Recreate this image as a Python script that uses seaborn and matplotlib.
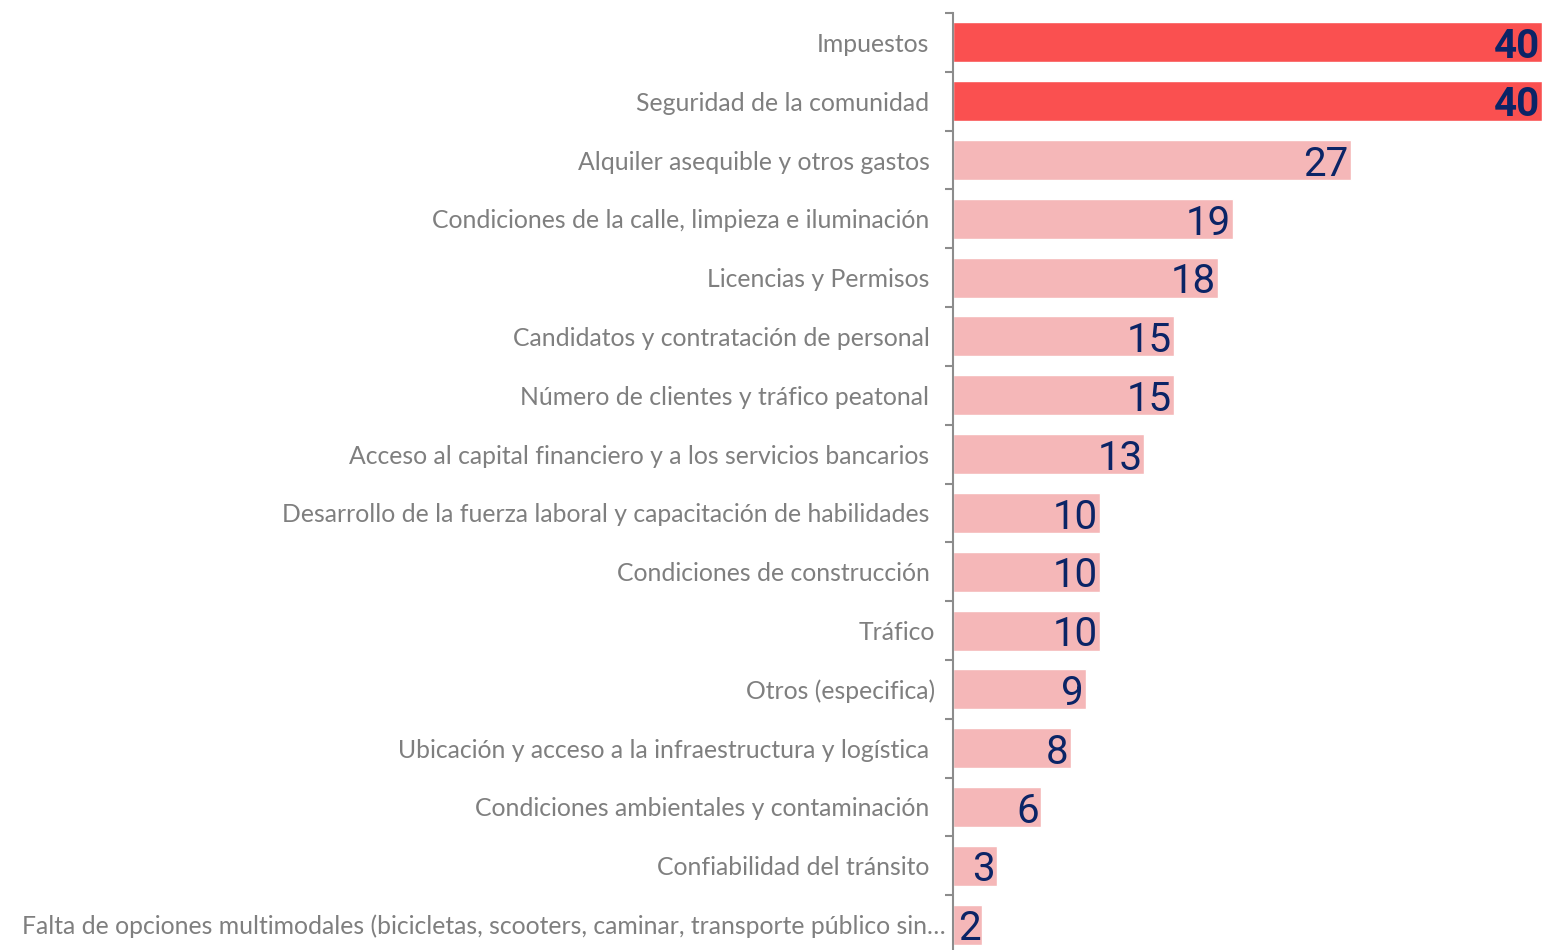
import matplotlib
matplotlib.use("Agg")
import matplotlib.pyplot as plt
import matplotlib.transforms as mtransforms
import seaborn as sns
import pandas as pd

categories = [
    "Impuestos",
    "Seguridad de la comunidad",
    "Alquiler asequible y otros gastos",
    "Condiciones de la calle, limpieza e iluminación",
    "Licencias y Permisos",
    "Candidatos y contratación de personal",
    "Número de clientes y tráfico peatonal",
    "Acceso al capital financiero y a los servicios bancarios",
    "Desarrollo de la fuerza laboral y capacitación de habilidades",
    "Condiciones de construcción",
    "Tráfico",
    "Otros (especifica)",
    "Ubicación y acceso a la infraestructura y logística",
    "Condiciones ambientales y contaminación",
    "Confiabilidad del tránsito",
    "Falta de opciones multimodales (bicicletas, scooters, caminar, transporte público sin…",
]
values = [40, 40, 27, 19, 18, 15, 15, 13, 10, 10, 10, 9, 8, 6, 3, 2]
highlight = [True, True] + [False] * 14

# label right-edge nudges (pixels) seen in the original
label_shift = {"Tráfico": 6, "Otros (especifica)": 6, categories[-1]: 16}

dark_red = "#FA5050"
light_red = "#F5B7B8"
navy = "#0B2466"
grey = "#7F7F7F"

df = pd.DataFrame({"categoria": categories, "valor": values})
palette = {c: (dark_red if h else light_red) for c, h in zip(categories, highlight)}

sns.set_style("white")
plt.rcParams["font.family"] = ["Lato", "DejaVu Sans"]

fig = plt.figure(figsize=(15.42, 9.5), dpi=100)
ax = fig.add_axes([953 / 1542, -4 / 950, 589 / 1542, 941 / 950])

sns.barplot(data=df, x="valor", y="categoria", hue="categoria", palette=palette,
            legend=False, width=0.68, orient="h", ax=ax, saturation=1)

ax.set_xlim(0, 40)
ax.set_ylim(len(categories) - 0.5, -0.5)
ax.set_xlabel("")
ax.set_ylabel("")
ax.set_xticks([])

for s in ["top", "right", "bottom"]:
    ax.spines[s].set_visible(False)
ax.spines["left"].set_color("#8C8C8C")
ax.spines["left"].set_linewidth(1.5)

# boundaries carry the tick marks, labels sit at the centres
ax.set_yticks(range(len(categories)))
ax.set_yticklabels(categories)
ax.tick_params(axis="y", which="major", length=0, pad=17, labelsize=17.8, labelcolor=grey)
ax.set_yticks([i - 0.5 for i in range(len(categories) + 1)], minor=True)
ax.tick_params(axis="y", which="minor", left=True, length=6, width=1.5,
               color="#8C8C8C", direction="out")

for lab in ax.get_yticklabels():
    shift = label_shift.get(lab.get_text(), 0)
    if shift:
        lab.set_transform(lab.get_transform() + mtransforms.ScaledTranslation(shift / 100, 0, fig.dpi_scale_trans))

for i, (v, h) in enumerate(zip(values, highlight)):
    ax.annotate(str(v), xy=(v, i), xytext=(-1.5, -3), textcoords="offset points",
                ha="right", va="center", fontsize=29, color=navy,
                fontweight="bold" if h else "normal", family=["Roboto", "DejaVu Sans"])

fig.savefig("out.png", dpi=100)
